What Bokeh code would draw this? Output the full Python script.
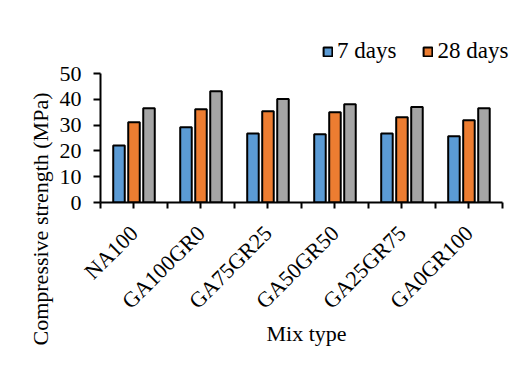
import math
from bokeh.plotting import figure
from bokeh.models import (ColumnDataSource, Range1d, FixedTicker, Legend, LegendItem, Title)
from bokeh.embed import file_html
from bokeh.resources import INLINE

categories = ["NA100", "GA100GR0", "GA75GR25", "GA50GR50", "GA25GR75", "GA0GR100"]
series_names = ["7 days", "28 days", "90 days"]
days7 = [22.1, 29.2, 26.8, 26.5, 26.8, 25.7]
days28 = [31.1, 36.2, 35.4, 35.0, 33.1, 31.9]
days90 = [36.6, 43.2, 40.1, 38.1, 37.0, 36.6]
colors = ["#5B9BD5", "#ED7D31", "#A5A5A5"]
y_ticks = [0, 10, 20, 30, 40, 50]
y_max = 50

FONT = "Liberation Serif"

n = len(categories)
centers = [i + 0.5 for i in range(n)]
offsets = [-0.224, 0.0, 0.224]
bar_w = 0.172

# frame extends beyond the axes (axes bounded) to leave room for the legend
p = figure(frame_width=412, frame_height=165, output_backend="svg", toolbar_location=None,
           x_range=Range1d(0, 6.15), y_range=Range1d(0, 64),
           min_border_left=100, min_border_right=8, min_border_top=37, min_border_bottom=163)
p.outline_line_color = None
p.xgrid.visible = False
p.ygrid.visible = False
p.background_fill_color = "white"

renderers = []
for vals, off, col in zip([days7, days28, days90], offsets, colors):
    src = ColumnDataSource(dict(x=[c + off for c in centers], top=vals))
    r = p.vbar(x="x", top="top", bottom=0, width=bar_w, source=src,
               fill_color=col, line_color="black", line_width=2)
    renderers.append(r)

# x axis: ticks at boundaries and centers
ticks = [i * 0.5 for i in range(2 * n + 1)]
overrides = {}
for t in ticks:
    overrides[t] = ""
for c, name in zip(centers, categories):
    overrides[c] = name
xa = p.xaxis[0]
xa.ticker = FixedTicker(ticks=ticks)
xa.bounds = (0, n)
xa.major_label_overrides = overrides
xa.major_label_orientation = math.pi / 4
xa.minor_tick_line_color = None
xa.major_tick_in = 0
xa.major_tick_out = 6
xa.major_tick_line_width = 2
xa.axis_line_width = 2
xa.axis_line_color = "black"
xa.major_tick_line_color = "black"
xa.major_label_text_font = FONT
xa.major_label_text_font_size = "22px"
xa.major_label_text_color = "black"
xa.major_label_standoff = 21
xa.axis_label = "Mix type"
xa.axis_label_text_font = FONT
xa.axis_label_text_font_size = "22px"
xa.axis_label_text_font_style = "normal"
xa.axis_label_text_color = "black"
xa.axis_label_standoff = -4

ya = p.yaxis[0]
ya.ticker = FixedTicker(ticks=y_ticks)
ya.bounds = (0, y_max)
ya.minor_tick_line_color = None
ya.major_tick_in = 0
ya.major_tick_out = 7
ya.major_tick_line_width = 2
ya.axis_line_width = 2
ya.axis_line_color = "black"
ya.major_tick_line_color = "black"
ya.major_label_text_font = FONT
ya.major_label_text_font_size = "22px"
ya.major_label_text_color = "black"
ya.major_label_standoff = 12

ytitle = Title(text="Compressive strength  (MPa)", align="left", offset=-143,
               text_font=FONT, text_font_size="22px", text_font_style="normal",
               text_color="black", standoff=8)
p.add_layout(ytitle, "left")

legend = Legend(items=[LegendItem(label=series_names[0], renderers=[renderers[0]]),
                       LegendItem(label=series_names[1], renderers=[renderers[1]])],
                orientation="horizontal", location=(222, 138),
                padding=0, margin=0, spacing=26, label_standoff=4,
                glyph_width=11, glyph_height=11,
                label_text_font=FONT, label_text_font_size="23px", label_text_color="black",
                border_line_color=None, background_fill_alpha=0)
p.add_layout(legend, "center")

open("out.html", "w").write(file_html(p, INLINE))
